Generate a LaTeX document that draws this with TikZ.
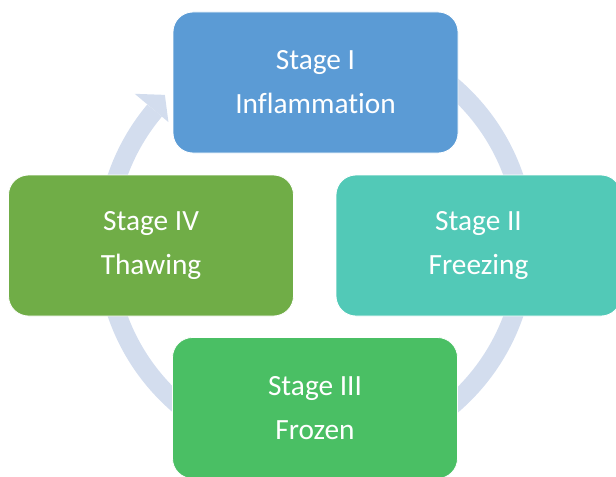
\documentclass[tikz,border=0pt]{standalone}
\usepackage{fontspec}
\setmainfont[RawFeature={-liga;-clig;-calt;-dlig}]{Carlito}
\usetikzlibrary{positioning}
\definecolor{stageone}{HTML}{5B9BD5}
\definecolor{stagetwo}{HTML}{52C9B7}
\definecolor{stagethree}{HTML}{4ABF64}
\definecolor{stagefour}{HTML}{70AD47}
\definecolor{cyclering}{HTML}{D3DDEE}
\tikzset{
    stage/.style={
    rectangle,rounded corners=15pt,draw=white,line width=0.6pt,text=white,
    minimum width=213.75pt,minimum height=105.75pt,align=center,
    font=\fontsize{22}{33}\selectfont
    },
    ring/.style={
    draw=cyclering,line width=14.25pt
    },
}

\begin{document}
\begin{tikzpicture}[x=0.75pt, y=0.75pt]
   \clip (0,0) rectangle (616,476);
   \coordinate (c) at (315.5,230.5);
   % circular arrow behind the boxes
   \draw[ring] ([shift={(c)}]100:210) arc (100:-220:210);
   \fill[cyclering] ([shift={(c)}]140:236) -- ([shift={(c)}]135:213)
     -- ([shift={(c)}]140:192) -- cycle;
   \node[stage,fill=stageone] (s1) at (315.5,393.5) {Stage I\\Inflammation};
   \node[stage,fill=stagetwo] (s2) at (478.5,230.5) {Stage II\\Freezing};
   \node[stage,fill=stagethree] (s3) at (315,68) {Stage III\\Frozen};
   \node[stage,fill=stagefour] (s4) at (151,230.5) {Stage IV\\Thawing};
\end{tikzpicture}
\end{document}
